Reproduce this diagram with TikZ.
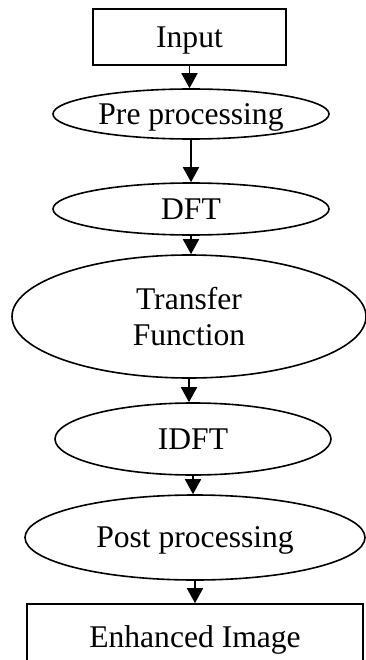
\documentclass[tikz,border=0pt]{standalone}
\usepackage{fontspec}
\setmainfont{Liberation Serif}
\usetikzlibrary{shapes.geometric,arrows.meta}
\begin{document}
\begin{tikzpicture}[x=1pt,y=-1pt,
  every node/.style={font=\fontsize{31.6}{36}\selectfont, inner sep=0pt, align=center, text depth=0pt},
  boxnode/.style={draw, rectangle, line width=1.6pt},
  ellnode/.style={draw, ellipse, line width=1.6pt},
  arr/.style={line width=1.8pt, -{Triangle[length=15pt,width=16pt]}}]
\clip (0,0) rectangle (366,660);
\useasboundingbox (0,0) rectangle (366,660);
\node[boxnode, minimum width=193pt, minimum height=56pt] (input) at (189.5,37) {Input};
\node[ellnode, minimum width=276pt, minimum height=50pt] (pre) at (191,114) {Pre processing};
\node[ellnode, minimum width=276pt, minimum height=52pt] (dft) at (191,209) {DFT};
\node[ellnode, minimum width=354pt, minimum height=123pt] (tf) at (189,316.5) {Transfer\\Function};
\node[ellnode, minimum width=276pt, minimum height=72pt] (idft) at (193,439) {IDFT};
\node[ellnode, minimum width=340pt, minimum height=85pt] (post) at (195,537.5) {Post processing};
\node[boxnode, minimum width=336pt, minimum height=66pt] (enh) at (195,637) {Enhanced Image};
\draw[arr] (input.south) -- (input.south |- pre.north);
\draw[arr] (pre.south) -- (pre.south |- dft.north);
\draw[arr] (dft.south) -- (dft.south |- tf.north);
\draw[arr] (tf.south) -- (tf.south |- idft.north);
\draw[arr] (idft.south) -- (idft.south |- post.north);
\draw[arr] (post.south) -- (post.south |- enh.north);
\end{tikzpicture}
\end{document}
